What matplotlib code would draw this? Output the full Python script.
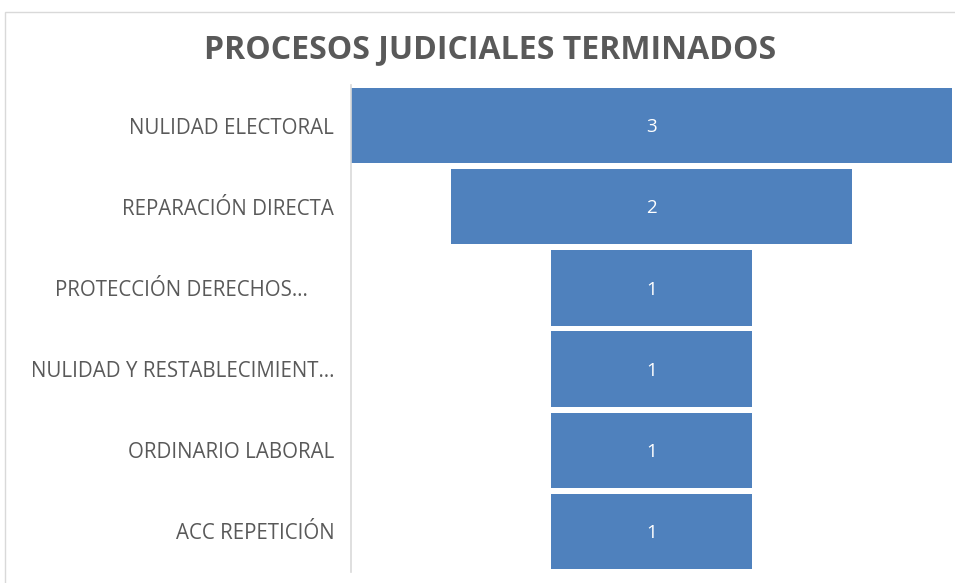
import matplotlib.pyplot as plt

categories = [
    "NULIDAD ELECTORAL",
    "REPARACIÓN DIRECTA",
    "PROTECCIÓN DERECHOS…     ",
    "NULIDAD Y RESTABLECIMIENT…",
    "ORDINARIO LABORAL",
    "ACC REPETICIÓN",
]
values = [3, 2, 1, 1, 1, 1]
title = "PROCESOS JUDICIALES TERMINADOS"

font = ["Open Sans", "DejaVu Sans"]
bar_color = "#4F81BD"
text_color = "#595959"

fig = plt.figure(figsize=(9.55, 5.83), dpi=100)
W, H = 955, 583

# chart frame
frame = plt.Rectangle((5 / W, -0.01), 1.0, 1 - 12 / H + 0.01, transform=fig.transFigure,
                      fill=False, edgecolor="#D9D9D9", linewidth=1.0)
fig.patches.append(frame)

ax = fig.add_axes([351 / W, 1 - 572 / H, (952 - 351) / W, (572 - 85) / H])
n = len(categories)
ypos = list(range(n))
vmax = max(values)
lefts = [-v / 2 for v in values]
ax.barh(ypos, values, left=lefts, height=0.93, color=bar_color, edgecolor="none")
for y, v in zip(ypos, values):
    ax.text(0, y + 0.02, str(v), ha="center", va="center", color="white",
            fontsize=13.5, family=font)

ax.set_xlim(-vmax / 2, vmax / 2)
ax.set_ylim(n - 0.5, -0.5)
ax.set_yticks(ypos)
ax.set_yticklabels(categories, family=font, fontsize=14.8, color=text_color)
ax.tick_params(axis="y", length=0, pad=12)
ax.set_xticks([])
for s in ["top", "right", "bottom"]:
    ax.spines[s].set_visible(False)
ax.spines["left"].set_color("#D9D9D9")
ax.spines["left"].set_linewidth(1.2)

fig.text(490 / W, 1 - 50 / H, title, ha="center", va="center",
         fontsize=23, fontweight="bold", color=text_color, family=font)

fig.savefig("out.png", dpi=100, facecolor="white")
